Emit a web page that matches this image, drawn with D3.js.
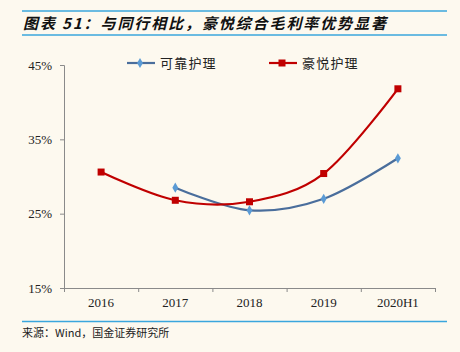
<!DOCTYPE html>
<html>
<head>
<meta charset="utf-8">
<script src="https://cdn.jsdelivr.net/npm/d3@7"></script>
<style>
  body { margin: 0; background: #fdf9ef; }
  svg { display: block; }
</style>
</head>
<body>
<div id="chart"></div>
<script>
// data
const years = ["2016", "2017", "2018", "2019", "2020H1"];
const kekao = [null, 28.5, 25.45, 27.0, 32.45];   // 可靠护理
const haoyue = [30.6, 26.8, 26.6, 30.4, 41.8];    // 豪悦护理
const yTicks = [15, 25, 35, 45];

const W = 460, H = 352;
const svg = d3.select("#chart").append("svg")
    .attr("width", W)
    .attr("height", H);

svg.append("rect").attr("width", W).attr("height", H).attr("fill", "#fdf9ef");

// title + rules
svg.append("line").attr("x1", 22).attr("x2", 447).attr("y1", 11).attr("y2", 11)
    .attr("stroke", "#3aa6dd").attr("stroke-width", 1.5);
svg.append("line").attr("x1", 22).attr("x2", 447).attr("y1", 35).attr("y2", 35)
    .attr("stroke", "#3aa6dd").attr("stroke-width", 1.5);
svg.append("text")
    .attr("x", 23).attr("y", 28.5)
    .attr("font-family", "Noto Sans CJK SC")
    .attr("font-size", 15)
    .attr("font-weight", "bold")
    .attr("font-style", "italic")
    .attr("letter-spacing", 1.9)
    .attr("fill", "#111")
    .text("图表 51：与同行相比，豪悦综合毛利率优势显著");

// footer
svg.append("line").attr("x1", 22).attr("x2", 447).attr("y1", 321.5).attr("y2", 321.5)
    .attr("stroke", "#3aa6dd").attr("stroke-width", 1.5);
svg.append("text")
    .attr("x", 22).attr("y", 337)
    .attr("font-family", "Noto Sans CJK SC")
    .attr("font-size", 11)
    .attr("fill", "#222")
    .text("来源：Wind，国金证券研究所");

var pLeft = 64, pRight = 435, pTop = 65, pBottom = 288;

var x = d3.scaleBand().domain(years).range([pLeft, pRight]).paddingInner(0).paddingOuter(0);
var xEdge = d3.scaleLinear().domain([0, years.length]).range([pLeft, pRight]);
var y = d3.scaleLinear().domain([15, 45]).range([pBottom, pTop]);

// y axis
var yAxis = svg.append("g")
    .attr("transform", `translate(${pLeft},0)`)
    .call(d3.axisLeft(y).tickValues(yTicks).tickSize(4).tickPadding(8).tickFormat(d => d + "%"));
// x axis boundary ticks
var xAxis = svg.append("g")
    .attr("transform", `translate(0,${pBottom})`)
    .call(d3.axisBottom(xEdge).ticks(years.length).tickSize(4).tickFormat(""));
// x labels
var xLab = svg.append("g")
    .attr("transform", `translate(0,${pBottom})`)
    .call(d3.axisBottom(x).tickSize(0).tickPadding(10));
xLab.select(".domain").remove();

[yAxis, xAxis].forEach(function(g) {
    g.select(".domain").attr("stroke", "#8a8a8a");
    g.selectAll(".tick line").attr("stroke", "#8a8a8a");
});
[yAxis, xLab].forEach(function(g) {
    g.attr("font-family", "Liberation Serif");
    g.selectAll("text")
        .attr("font-family", "Liberation Serif")
        .attr("font-size", 13)
        .attr("fill", "#222");
});

var cx = function(i) { return x(years[i]) + x.bandwidth() / 2; };

var line = d3.line()
    .x(d => cx(d.i))
    .y(d => y(d.v))
    .curve(d3.curveCatmullRom.alpha(0));

var blue = "#4a6e9c", blueMark = "#5b9bd5", red = "#c00000";

var kData = kekao.map((v, i) => ({ v: v, i: i })).filter(d => d.v != null);
var hData = haoyue.map((v, i) => ({ v: v, i: i }));

svg.append("path").datum(kData)
    .attr("d", line).attr("fill", "none").attr("stroke", blue).attr("stroke-width", 2.2);
svg.append("path").datum(hData)
    .attr("d", line).attr("fill", "none").attr("stroke", red).attr("stroke-width", 2.2);

var diamond = d3.symbol().type(d3.symbolDiamond).size(30);

svg.selectAll(".kpt").data(kData).enter().append("path")
    .attr("class", "kpt")
    .attr("d", diamond)
    .attr("transform", d => `translate(${cx(d.i)},${y(d.v)})`)
    .attr("fill", blueMark);

svg.selectAll(".hpt").data(hData).enter().append("rect")
    .attr("class", "hpt")
    .attr("x", d => cx(d.i) - 3.5)
    .attr("y", d => y(d.v) - 3.5)
    .attr("width", 7).attr("height", 7)
    .attr("fill", red);

// legend
var legend = [
    { name: "可靠护理", x: 127, color: blue, mark: "diamond" },
    { name: "豪悦护理", x: 269, color: red, mark: "square" }
];
var lg = svg.selectAll(".lg").data(legend).enter().append("g")
    .attr("transform", d => `translate(${d.x},63)`);
lg.append("line").attr("x1", 0).attr("x2", 28).attr("y1", 0).attr("y2", 0)
    .attr("stroke", d => d.color).attr("stroke-width", 2.2);
lg.each(function(d) {
    var g = d3.select(this);
    if (d.mark == "diamond") {
        g.append("path").attr("d", diamond).attr("transform", "translate(13,0)").attr("fill", blueMark);
    } else {
        g.append("rect").attr("x", 9.5).attr("y", -3.5).attr("width", 7).attr("height", 7).attr("fill", red);
    }
});
lg.append("text")
    .attr("x", 33).attr("y", 5)
    .attr("font-family", "Noto Sans CJK SC")
    .attr("font-size", 13)
    .attr("letter-spacing", 1.2)
    .attr("fill", "#222")
    .text(d => d.name);
</script>
</body>
</html>
